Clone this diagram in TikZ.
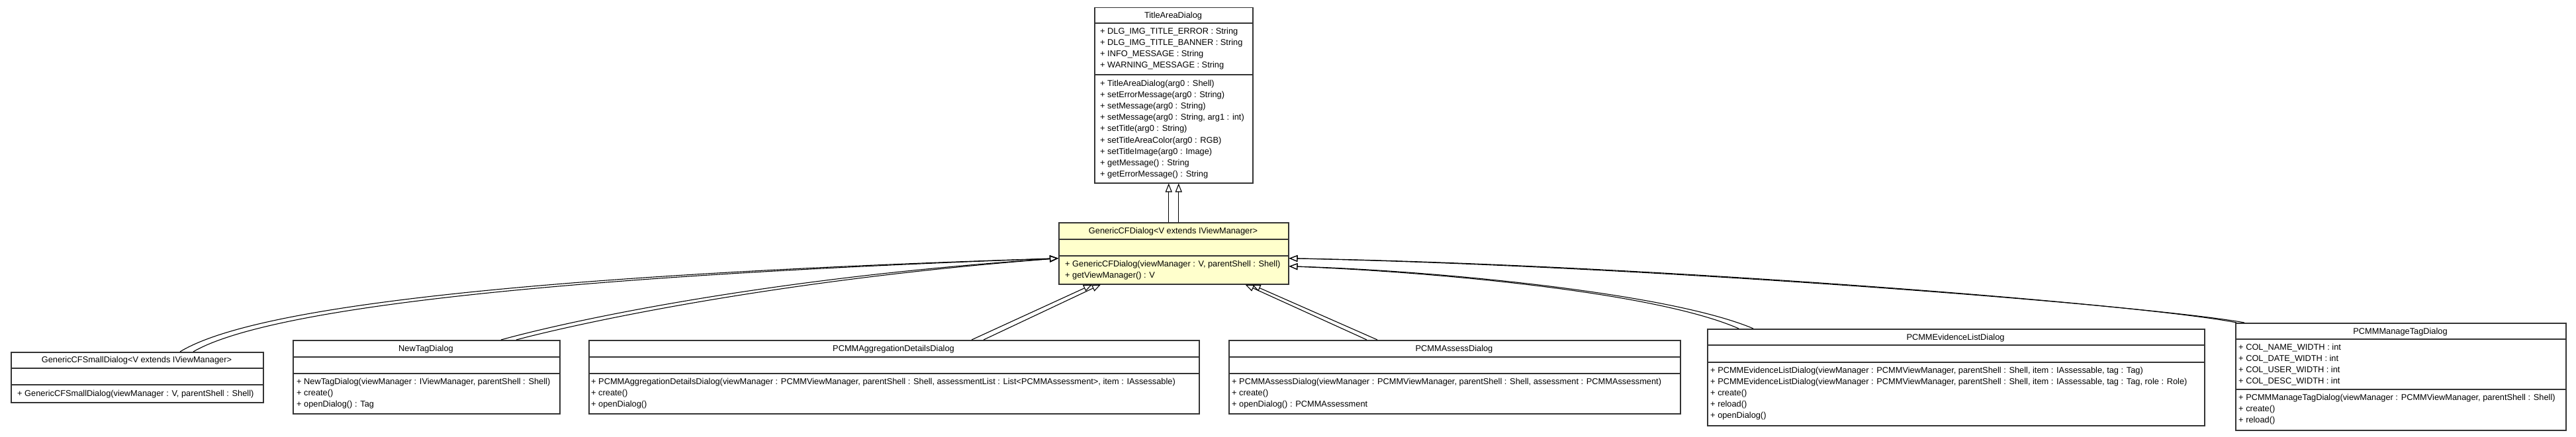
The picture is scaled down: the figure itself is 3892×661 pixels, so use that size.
\documentclass[tikz,border=0pt]{standalone}
\usepackage{fontspec}
\setmainfont{Liberation Sans}
\usetikzlibrary{arrows.meta}
\definecolor{cfyellow}{HTML}{FFFFCC}
\definecolor{boxc}{HTML}{333333}
\tikzset{
  cls/.style={draw=boxc, line width=1.5pt, fill=white, inner sep=0pt, anchor=north west},
  sep/.style={draw=boxc, line width=1.5pt},
  txt/.style={inner sep=0pt, anchor=base west, font=\fontsize{12.8}{14}\selectfont},
  ttl/.style={inner sep=0pt, anchor=base, font=\fontsize{12.8}{14}\selectfont},
  inh/.style={draw=black, line width=1.1pt, -{Triangle[open, length=13pt, width=10pt, line width=1.1pt]}},
}
\begin{document}
\begin{tikzpicture}[x=1pt,y=-1pt]
\useasboundingbox (0,0) rectangle (3892,661);
\fill[white] (0,0) rectangle (3892,661);

% TitleAreaDialog
\node[cls, minimum width=239pt, minimum height=265pt] (ta) at (1653,11) {};
\draw[sep] (ta.west |- 0,35) -- (ta.east |- 0,35);
\draw[sep] (ta.west |- 0,113) -- (ta.east |- 0,113);
\node[ttl] (ta-t) at (1772.5,27.5) {TitleAreaDialog};
\foreach \s [count=\i from 0] in {{+ DLG\_IMG\_TITLE\_ERROR : String},{+ DLG\_IMG\_TITLE\_BANNER : String},{+ INFO\_MESSAGE : String},{+ WARNING\_MESSAGE : String}}
  \node[txt] (ta-a\i) at (1662,{51.5+17.1*\i}) {\s};
\foreach \s [count=\i from 0] in {{+ TitleAreaDialog(arg0 : Shell)},{+ setErrorMessage(arg0 : String)},{+ setMessage(arg0 : String)},{+ setMessage(arg0 : String, arg1 : int)},{+ setTitle(arg0 : String)},{+ setTitleAreaColor(arg0 : RGB)},{+ setTitleImage(arg0 : Image)},{+ getMessage() : String},{+ getErrorMessage() : String}}
  \node[txt] (ta-m\i) at (1662,{130.5+17.1*\i}) {\s};

% GenericCFDialog
\node[cls, fill=cfyellow, minimum width=347pt, minimum height=93pt] (gcf) at (1599,336) {};
\draw[sep] (gcf.west |- 0,362) -- (gcf.east |- 0,362);
\draw[sep] (gcf.west |- 0,387) -- (gcf.east |- 0,387);
\node[ttl] (gcf-t) at (1772.5,353) {GenericCFDialog<V extends IViewManager>};
\node[txt] (gcf-m0) at (1609,403.5) {+ GenericCFDialog(viewManager : V, parentShell : Shell)};
\node[txt] (gcf-m1) at (1609,420.6) {+ getViewManager() : V};

% GenericCFSmallDialog
\node[cls, minimum width=381pt, minimum height=76pt] (gsd) at (16,532) {};
\draw[sep] (gsd.west |- 0,557) -- (gsd.east |- 0,557);
\draw[sep] (gsd.west |- 0,582) -- (gsd.east |- 0,582);
\node[ttl] (gsd-t) at (206.5,548.5) {GenericCFSmallDialog<V extends IViewManager>};
\node[txt] (gsd-m0) at (26,599.5) {+ GenericCFSmallDialog(viewManager : V, parentShell : Shell)};

% NewTagDialog
\node[cls, minimum width=403pt, minimum height=111pt] (ntd) at (442,514) {};
\draw[sep] (ntd.west |- 0,540) -- (ntd.east |- 0,540);
\draw[sep] (ntd.west |- 0,565) -- (ntd.east |- 0,565);
\node[ttl] (ntd-t) at (643.5,531.5) {NewTagDialog};
\foreach \s [count=\i from 0] in {{+ NewTagDialog(viewManager : IViewManager, parentShell : Shell)},{+ create()},{+ openDialog() : Tag}}
  \node[txt] (ntd-m\i) at (448,{581.5+17.1*\i}) {\s};

% PCMMAggregationDetailsDialog
\node[cls, minimum width=922pt, minimum height=111pt] (pad) at (889,514) {};
\draw[sep] (pad.west |- 0,540) -- (pad.east |- 0,540);
\draw[sep] (pad.west |- 0,565) -- (pad.east |- 0,565);
\node[ttl] (pad-t) at (1350,531.5) {PCMMAggregationDetailsDialog};
\foreach \s [count=\i from 0] in {{+ PCMMAggregationDetailsDialog(viewManager : PCMMViewManager, parentShell : Shell, assessmentList : List<PCMMAssessment>, item : IAssessable)},{+ create()},{+ openDialog()}}
  \node[txt] (pad-m\i) at (893,{581.5+17.1*\i}) {\s};

% PCMMAssessDialog
\node[cls, minimum width=682pt, minimum height=111pt] (pas) at (1856,514) {};
\draw[sep] (pas.west |- 0,540) -- (pas.east |- 0,540);
\draw[sep] (pas.west |- 0,565) -- (pas.east |- 0,565);
\node[ttl] (pas-t) at (2197,531.5) {PCMMAssessDialog};
\foreach \s [count=\i from 0] in {{+ PCMMAssessDialog(viewManager : PCMMViewManager, parentShell : Shell, assessment : PCMMAssessment)},{+ create()},{+ openDialog() : PCMMAssessment}}
  \node[txt] (pas-m\i) at (1861,{581.5+17.1*\i}) {\s};

% PCMMEvidenceListDialog
\node[cls, minimum width=751pt, minimum height=146pt] (pel) at (2579,497) {};
\draw[sep] (pel.west |- 0,522) -- (pel.east |- 0,522);
\draw[sep] (pel.west |- 0,548) -- (pel.east |- 0,548);
\node[ttl] (pel-t) at (2954.5,514) {PCMMEvidenceListDialog};
\foreach \s [count=\i from 0] in {{+ PCMMEvidenceListDialog(viewManager : PCMMViewManager, parentShell : Shell, item : IAssessable, tag : Tag)},{+ PCMMEvidenceListDialog(viewManager : PCMMViewManager, parentShell : Shell, item : IAssessable, tag : Tag, role : Role)},{+ create()},{+ reload()},{+ openDialog()}}
  \node[txt] (pel-m\i) at (2584,{564.5+17.1*\i}) {\s};

% PCMMManageTagDialog
\node[cls, minimum width=499pt, minimum height=162pt] (pmt) at (3377,488) {};
\draw[sep] (pmt.west |- 0,513) -- (pmt.east |- 0,513);
\draw[sep] (pmt.west |- 0,589) -- (pmt.east |- 0,589);
\node[ttl] (pmt-t) at (3626.5,505) {PCMMManageTagDialog};
\foreach \s [count=\i from 0] in {{+ COL\_NAME\_WIDTH : int},{+ COL\_DATE\_WIDTH : int},{+ COL\_USER\_WIDTH : int},{+ COL\_DESC\_WIDTH : int}}
  \node[txt] (pmt-a\i) at (3382,{529.5+17.1*\i}) {\s};
\foreach \s [count=\i from 0] in {{+ PCMMManageTagDialog(viewManager : PCMMViewManager, parentShell : Shell)},{+ create()},{+ reload()}}
  \node[txt] (pmt-m\i) at (3382,{605.5+17.1*\i}) {\s};

% inheritance edges
\draw[inh] ([xshift=-7.5pt]gcf.north) -- ([xshift=-7.5pt]ta.south);
\draw[inh] ([xshift=7.5pt]gcf.north) -- ([xshift=7.5pt]ta.south);

\draw[inh] ([xshift=256pt]gsd.north west) .. controls +(85,-52) and +(-949,30) .. ([yshift=-7.5pt]gcf.west);
\draw[inh] ([xshift=276pt]gsd.north west) .. controls +(82,-48) and +(-930,33) .. ([yshift=-7.5pt]gcf.west);

\draw[inh] ([xshift=315pt]ntd.north west) .. controls +(93,-26) and +(-449,30) .. ([yshift=-7.5pt]gcf.west);
\draw[inh] ([xshift=338pt]ntd.north west) .. controls +(90,-24) and +(-430,33) .. ([yshift=-7.5pt]gcf.west);

\draw[inh] ([xshift=579pt]pad.north west) -- ([xshift=51pt]gcf.south west);
\draw[inh] ([xshift=597pt]pad.north west) -- ([xshift=64pt]gcf.south west);

\draw[inh] ([xshift=209pt]pas.north west) -- ([xshift=-66pt]gcf.south east);
\draw[inh] ([xshift=225pt]pas.north west) -- ([xshift=-56pt]gcf.south east);

\draw[inh] ([xshift=48pt]pel.north west) .. controls +(-130,-57) and +(204,8) .. ([yshift=-19.5pt]gcf.east);
\draw[inh] ([xshift=70pt]pel.north west) .. controls +(-130,-55) and +(210,6) .. ([yshift=-19.5pt]gcf.east);

\draw[inh] ([xshift=2pt]pmt.north west) .. controls +(-135,-27) and +(554,10) .. ([yshift=-7.5pt]gcf.east);
\draw[inh] ([xshift=14pt]pmt.north west) .. controls +(-135,-25) and +(560,12) .. ([yshift=-7.5pt]gcf.east);
\end{tikzpicture}
\end{document}
